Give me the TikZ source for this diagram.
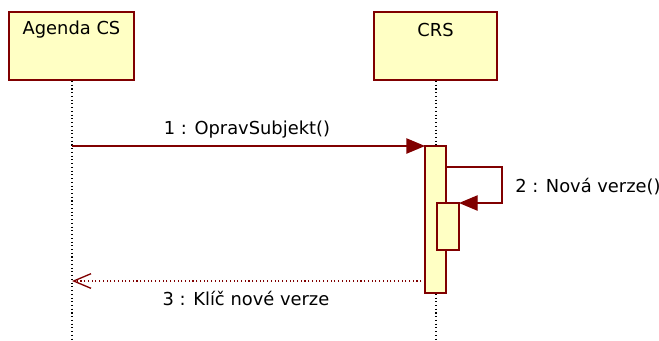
\documentclass[tikz,border=0pt]{standalone}
\usepackage{fontspec}
\setmainfont{DejaVu Sans}
\usetikzlibrary{arrows.meta}
\definecolor{dred}{RGB}{128,0,0}
\definecolor{lyel}{RGB}{255,255,196}
\begin{document}
\begin{tikzpicture}[x=0.75pt,y=-0.75pt,
  every node/.style={font=\fontsize{13.4pt}{15pt}\selectfont, inner sep=0pt},
  objbox/.style={draw=dred, fill=lyel, line width=1.2pt},
  actbar/.style={draw=dred, fill=lyel, line width=1pt},
  lifeline/.style={black, dotted, line width=0.8pt},
  msg/.style={dred, line width=1pt, -{Triangle[length=14pt,width=11.5pt]}},
  ret/.style={dred, dotted, line width=0.8pt, -{Straight Barb[length=13pt,width=11pt,line width=1pt]}}]
\useasboundingbox (0,0) rectangle (659,340);
% objects
\draw[objbox] (9,12) rectangle (134,80);
\node (a) at (71.5,30) {Agenda CS};
\draw[objbox] (374,12) rectangle (497,80);
\node (c) at (435.5,30) {CRS};
\coordinate (aTop) at (72,81);
\coordinate (aBot) at (72,340);
\coordinate (cTop) at (436,81);
\coordinate (cBot) at (436,340);
\draw[lifeline] (aTop) -- (aBot);
\draw[lifeline] (cTop) -- (cBot);
% activation bars
\draw[actbar] (425,146) rectangle (446,293);
\draw[actbar] (437,203) rectangle (459,250);
% message 1
\coordinate (m1s) at (72,146);
\coordinate (m1e) at (425,146);
\draw[msg] (m1s) -- (m1e);
\node (l1) at (247,130) {1 : OpravSubjekt()};
% self call
\coordinate (s1) at (446,167);
\coordinate (s2) at (502,167);
\coordinate (s3) at (502,203);
\coordinate (s4) at (459,203);
\draw[msg] (s1) -- (s2) -- (s3) -- (s4);
\node[anchor=west] (l2) at (515,187) {2 : Nová verze()};
% return
\coordinate (r1) at (425,281);
\coordinate (r2) at (72,281);
\draw[ret] (r1) -- (r2);
\node (l3) at (246,298) {3 : Klíč nové verze};
\end{tikzpicture}
\end{document}
